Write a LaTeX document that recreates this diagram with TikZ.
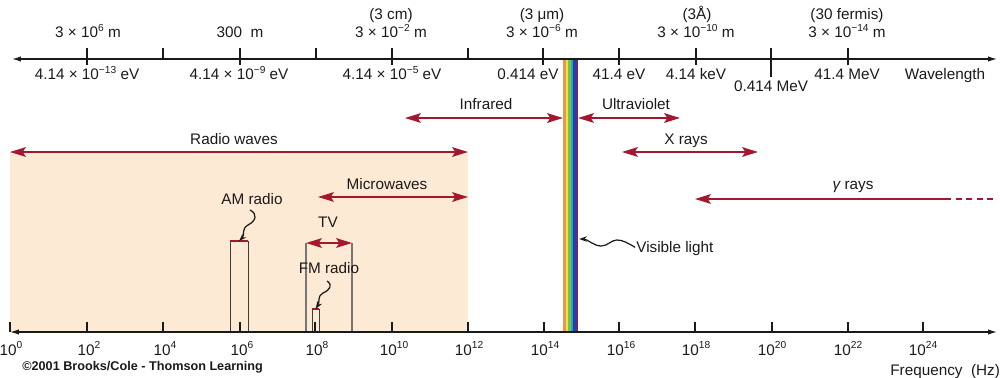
\documentclass[tikz,border=0pt]{standalone}
\usepackage{fontspec}
\setmainfont{Liberation Sans}
\usetikzlibrary{arrows.meta}
\definecolor{wred}{HTML}{A3182E}
\definecolor{peach}{HTML}{FDEAD5}
\definecolor{vOr}{HTML}{E49A48}
\definecolor{vYe}{HTML}{EEE244}
\definecolor{vGr}{HTML}{7CC243}
\definecolor{vCy}{HTML}{1FA3D8}
\definecolor{vBl}{HTML}{2A3E9C}
\definecolor{vVi}{HTML}{5E2A84}
\definecolor{ink}{HTML}{1A1A1A}
\newcommand{\sps}[1]{\raisebox{0.45em}{\fontsize{5.8}{6}\selectfont #1}}
\begin{document}
\begin{tikzpicture}[x=0.02cm,y=-0.02cm,
  every node/.style={font=\fontsize{8.7}{10}\selectfont, text=ink, inner sep=0pt},
  lbl/.style={anchor=base},
  rhead/.tip={Stealth[length=9pt,width=5.5pt,inset=1.8pt]},
  rng/.style={wred, line width=1.15pt, rhead-rhead},
  gam/.style={wred, line width=1.15pt, rhead-},
  axis/.style={ink, line width=0.7pt, {Latex[length=5pt,width=3pt]}-{Latex[length=5pt,width=3pt]}},
  tick/.style={ink, line width=0.6pt},
  squig/.style={ink, line width=0.7pt, -{Stealth[length=4.5pt,width=3pt]}},
  boxn/.style={draw=ink!85, line width=0.5pt, anchor=south},
  tvline/.style={draw=ink!60, line width=0.6pt},
]
\useasboundingbox (0,0) rectangle (1000,378);

% shaded radio region
\fill[peach] (10,152) rectangle (468,332);

% visible band
\foreach \c [count=\i from 0] in {vOr,vYe,vGr,vCy,vBl,vVi}
  \fill[\c] (563+\i*2.5,59) rectangle ++(2.5,273);
\coordinate (vband) at (579,239);

% top axis
\coordinate (tL) at (12,59);
\coordinate (tR) at (997,59);
\draw[axis] (tL) -- (tR);
\foreach \x in {87,240,392,543,619,696,848} \draw[tick] (\x,48) -- (\x,65);
\foreach \x in {163,316,468} \draw[tick] (\x,48) -- (\x,59);
\draw[tick] (771,48) -- (771,77);

% top labels (wavelength)
\node[lbl] (w1) at (88,38) {3 × 10\sps{6} m};
\node[lbl] (w2) at (240,38) {300~ m};
\node[lbl] (w3a) at (391,20) {(3 cm)};
\node[lbl] (w3) at (391,38) {3 × 10\sps{−2} m};
\node[lbl] (w4a) at (542,20) {(3 μm)};
\node[lbl] (w4) at (542,38) {3 × 10\sps{−6} m};
\node[lbl] (w5a) at (697,20) {(3Å)};
\node[lbl] (w5) at (696,38) {3 × 10\sps{−10} m};
\node[lbl] (w6a) at (847,20) {(30 fermis)};
\node[lbl] (w6) at (847,38) {3 × 10\sps{−14} m};

% energy labels
\node[lbl] (e1) at (87,80) {4.14 × 10\sps{−13} eV};
\node[lbl] (e2) at (239,80) {4.14 × 10\sps{−9} eV};
\node[lbl] (e3) at (392,80) {4.14 × 10\sps{−5} eV};
\node[lbl] (e4) at (528,80) {0.414 eV};
\node[lbl] (e5) at (619,80) {41.4 eV};
\node[lbl] (e6) at (696,80) {4.14 keV};
\node[lbl] (e7) at (771,92) {0.414 MeV};
\node[lbl] (e8) at (847,80) {41.4 MeV};
\node[lbl] (wl) at (945,80) {Wavelength};

% ranges
\coordinate (irL) at (405,118); \coordinate (irR) at (563,118);
\draw[rng] (irL) -- (irR);
\node[lbl] (ir) at (486,110) {Infrared};

\coordinate (uvL) at (578,118); \coordinate (uvR) at (680,118);
\draw[rng] (uvL) -- (uvR);
\node[lbl] (uv) at (636,110) {Ultraviolet};

\coordinate (rwL) at (10,152); \coordinate (rwR) at (468,152);
\draw[rng] (rwL) -- (rwR);
\node[lbl] (rw) at (234,145) {Radio waves};

\coordinate (xrL) at (622,152); \coordinate (xrR) at (758,152);
\draw[rng] (xrL) -- (xrR);
\node[lbl] (xr) at (686,145) {X rays};

\coordinate (mwL) at (318,197); \coordinate (mwR) at (468,197);
\draw[rng] (mwL) -- (mwR);
\node[lbl] (mw) at (387,190) {Microwaves};

\coordinate (grL) at (695,199); \coordinate (grM) at (945,199); \coordinate (grR) at (997,199);
\draw[gam] (grL) -- (grM);
\draw[wred, line width=1pt, dash pattern=on 3.5pt off 2.5pt] (grM) -- (grR);
\node[lbl] (gr) at (853,190) {{\itshape γ} rays};

% TV
\coordinate (tvL) at (306,243); \coordinate (tvR) at (352,243);
\coordinate (tvLb) at (306,332); \coordinate (tvRb) at (352,332);
\draw[tvline] (tvL) -- (tvLb);
\draw[tvline] (tvR) -- (tvRb);
\draw[rng] (tvL) -- (tvR);
\node[lbl] (tv) at (328,228) {TV};

% AM radio box
\node[boxn, minimum width=0.36cm, minimum height=1.8cm] (ambox) at (239,332) {};
\draw[wred, line width=1.2pt] (ambox.north west) -- (ambox.north east);
\node[lbl] (am) at (252,205) {AM radio};
\coordinate (amS) at (250,210);
\draw[squig] (amS) .. controls (258,214) and (256,221) .. (248,225)
  .. controls (241,229) and (245,235) .. (ambox.north);

% FM radio box
\node[boxn, minimum width=0.14cm, minimum height=0.44cm] (fmbox) at (315.5,332) {};
\draw[wred, line width=1.1pt] (fmbox.north west) -- (fmbox.north east);
\node[lbl] (fm) at (329,273) {FM radio};
\coordinate (fmS) at (327,281);
\draw[squig] (fmS) .. controls (333,285) and (330,290) .. (323,293)
  .. controls (317,296) and (320,302) .. (fmbox.north);

% bottom axis
\coordinate (bL) at (10,332);
\coordinate (bR) at (997,332);
\foreach \x in {10,87,163,240,315,392,468,544,619,695,772,848,923}
  \draw[tick] (\x,322) -- (\x,332);
\draw[axis] (bL) -- (bR);

% frequency labels
\node[lbl] (f0) at (11,355) {10\sps{0}};
\node[lbl] (f2) at (89,355) {10\sps{2}};
\node[lbl] (f4) at (165,355) {10\sps{4}};
\node[lbl] (f6) at (242,355) {10\sps{6}};
\node[lbl] (f8) at (317,355) {10\sps{8}};
\node[lbl] (f10) at (394,355) {10\sps{10}};
\node[lbl] (f12) at (469,355) {10\sps{12}};
\node[lbl] (f14) at (545,355) {10\sps{14}};
\node[lbl] (f16) at (621,355) {10\sps{16}};
\node[lbl] (f18) at (696,355) {10\sps{18}};
\node[lbl] (f20) at (772,355) {10\sps{20}};
\node[lbl] (f22) at (848,355) {10\sps{22}};
\node[lbl] (f24) at (923,355) {10\sps{24}};
\node[anchor=base west] (fq) at (890,375) {Frequency~ (Hz)};
\node[anchor=base west, font=\fontsize{7.2}{8}\selectfont\bfseries] (cp) at (22,370) {©2001 Brooks/Cole - Thomson Learning};

% visible light
\node[anchor=base west] (vis) at (636,253) {Visible light};
\draw[squig] ([xshift=-0.5pt,yshift=1pt]vis.west) .. controls +(-7,-4) and +(6,0) .. (617,240)
  .. controls +(-6,0) and +(7,0) .. (601,246)
  .. controls +(-7,0) and +(8,0) .. (vband);
\end{tikzpicture}
\end{document}
